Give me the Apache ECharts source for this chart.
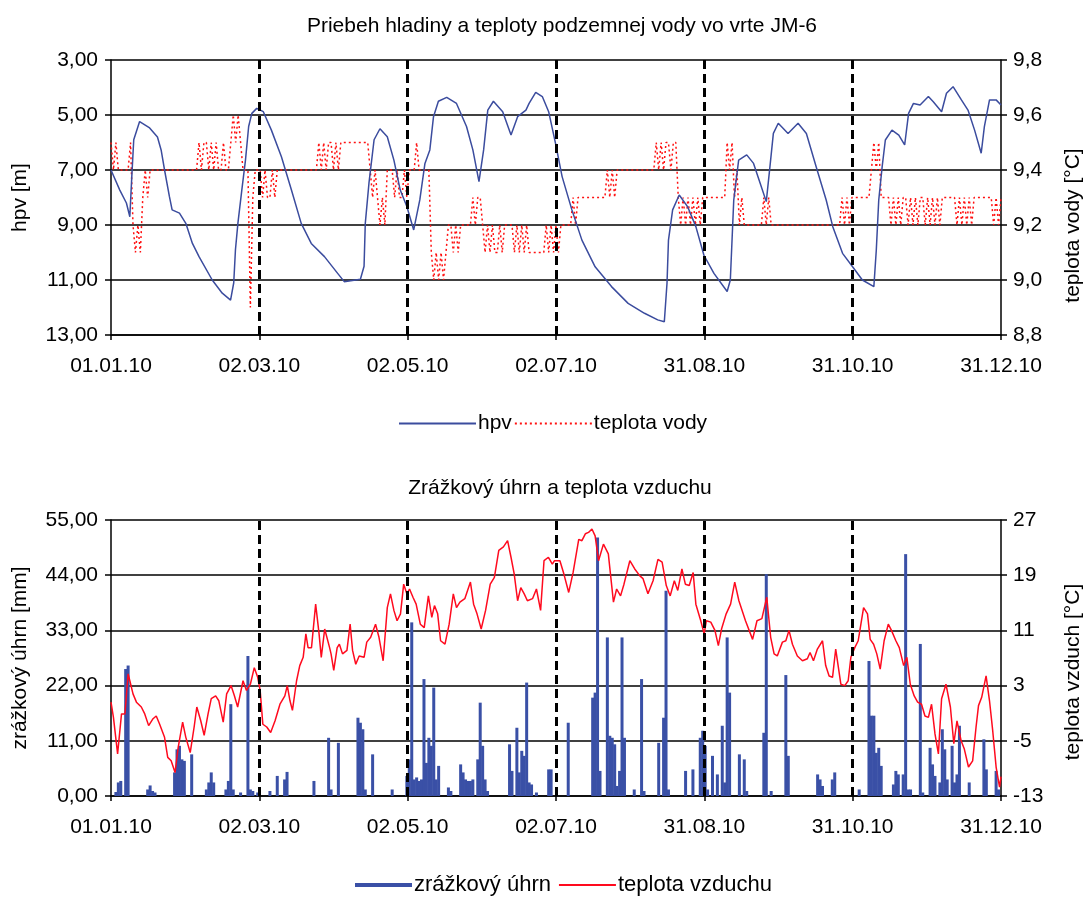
<!DOCTYPE html>
<html>
<head>
<meta charset="utf-8">
<script src="https://cdn.jsdelivr.net/npm/echarts/dist/echarts.min.js"></script>
<style>
  html, body { margin: 0; padding: 0; background: #fff; overflow: hidden; }
  #chart { width: 1092px; height: 899px; }
</style>
</head>
<body>
<div id="chart"></div>
<script>
// Day index 0 = 01.01.2010, 364 = 31.12.2010
const xTickLabels = ['01.01.10', '02.03.10', '02.05.10', '02.07.10', '31.08.10', '31.10.10', '31.12.10'];

// Groundwater level (hpv, m below surface): [day, value]
const hpv = [
  [0,7.0],[3.6,7.73],[6.3,8.2],[7.7,8.7],[8.5,7.25],[9.3,5.9],[11.7,5.24],[15.8,5.47],[19,5.8],[20.5,6.27],
  [21.9,7.0],[23.9,7.97],[25,8.45],[28,8.57],[30.6,8.94],[33.3,9.67],[36,10.15],[41.4,11.0],[45.5,11.48],[48.9,11.73],
  [50.2,11.1],[50.9,9.9],[51.9,8.94],[53.5,7.73],[55,6.64],[56.3,5.42],[57.6,4.94],[59.6,4.76],[62.3,4.88],[65.6,5.55],
  [69.7,6.52],[73.8,7.73],[77.8,8.94],[81.9,9.67],[87.3,10.15],[92.7,10.76],[95.4,11.06],[102,10.97],[103.5,10.5],[104,8.94],
  [105.5,7.48],[107.6,5.9],[110,5.5],[113,5.79],[115.7,6.64],[118.3,7.73],[121,8.33],[123.8,9.18],[124.4,9.24],[126.3,8.09],
  [128.4,6.76],[130.4,6.27],[131.9,5.06],[133.9,4.5],[137.3,4.36],[141.3,4.58],[145.4,5.42],[148,6.27],[150.5,7.42],[152.4,6.27],
  [154.1,4.82],[156.4,4.5],[160.2,4.88],[163.6,5.73],[166.3,5.06],[169.7,4.82],[171,4.58],[173.7,4.18],[176.4,4.33],[179,4.88],
  [181.8,6.03],[184.5,7.24],[188.5,8.45],[192.6,9.55],[198,10.52],[204.7,11.24],[211.5,11.85],[218.2,12.21],[223.6,12.45],[226.3,12.52],
  [227.4,11.12],[228,9.55],[229.7,8.45],[232.4,7.91],[235.8,8.33],[239.2,9.06],[242.5,10.1],[246.6,10.76],[252,11.42],[253.3,11.0],
  [254.7,8.09],[256.7,6.64],[260,6.45],[262.8,6.76],[265.5,7.48],[268,8.15],[269.5,6.88],[270.9,5.67],[272.9,5.3],[276.9,5.67],
  [281,5.3],[284.4,5.67],[288.4,6.88],[292.5,8.09],[295.2,9.06],[299.2,10.03],[303.3,10.52],[307.3,11.0],[312,11.24],[313,9.91],
  [314,8.09],[315.4,6.88],[316.7,5.91],[319.4,5.55],[322.2,5.73],[324.6,6.09],[326.2,4.94],[328.2,4.58],[330.9,4.64],[334.3,4.33],
  [336.3,4.52],[339.7,4.88],[341.7,4.21],[344.4,3.97],[347.8,4.45],[350.5,4.82],[353.2,5.55],[355.9,6.39],[357.2,5.42],[359.3,4.45],
  [362,4.45],[364,4.64]
];

// Groundwater temperature (°C), one value per day, month by month
const waterJan = [9.5,9.4,9.5,9.4,9.4,9.4,9.4,9.4,9.5,9.2, 9.1,9.2,9.1,9.3,9.4,9.3,9.4,9.4,9.4,9.4, 9.4,9.4,9.4,9.4,9.4,9.4,9.4,9.4,9.4,9.4, 9.4];
const waterFeb = [9.4,9.4,9.4,9.4,9.4, 9.5,9.4,9.5,9.5,9.4,9.5,9.4,9.5,9.4,9.4,9.5,9.4, 9.4,9.5,9.6,9.5,9.6,9.5,9.4,9.4,9.4,8.9,9.3];
const waterMar = [9.4,9.4,9.4,9.3,9.4,9.3,9.3,9.4,9.3,9.4, 9.4,9.4,9.4,9.4,9.4,9.4,9.4,9.4, 9.4,9.4,9.4,9.4,9.4,9.4,9.4,9.4, 9.5,9.4,9.5,9.4,9.5];
const waterApr = [9.5,9.4,9.5,9.4,9.5, 9.5,9.5,9.5,9.5,9.5,9.5,9.5,9.5,9.5,9.5,9.5, 9.4,9.3,9.4,9.3,9.2,9.3,9.2,9.4, 9.4,9.4, 9.3,9.4,9.3,9.3];
const waterMay = [9.4,9.3, 9.4,9.4,9.4, 9.5, 9.4,9.4,9.4,9.4,9.4, 9.1, 9.0,9.1,9.0,9.1,9.0,9.1, 9.2,9.2,9.1,9.2,9.1,9.2, 9.2,9.2,9.2,9.2, 9.3,9.2,9.3];
const waterJun = [9.3,9.2, 9.1,9.2,9.1,9.2,9.1,9.1,9.2,9.1,9.2, 9.2,9.2,9.2, 9.1,9.2,9.1,9.2,9.1,9.2,9.1, 9.1,9.1,9.1,9.1,9.1,9.1, 9.2,9.1,9.2];
const waterJul = [9.1,9.2,9.1, 9.2,9.2,9.2,9.2,9.2, 9.3,9.2, 9.3,9.3,9.3,9.3,9.3,9.3,9.3,9.3,9.3,9.3,9.3,9.3, 9.4,9.3,9.4,9.3,9.4, 9.4,9.4,9.4,9.4];
const waterAug = [9.4,9.4,9.4,9.4,9.4,9.4,9.4,9.4,9.4,9.4,9.4, 9.5,9.4,9.5,9.4,9.5,9.5,9.4, 9.5,9.5,9.3, 9.2,9.3,9.2,9.3,9.2,9.3,9.2,9.3,9.2, 9.3];
const waterSep = [9.3,9.3,9.3,9.3,9.3,9.3,9.3,9.3,9.3, 9.5,9.4,9.5,9.3,9.4,9.2,9.3, 9.2,9.2,9.2,9.2,9.2,9.2,9.2,9.2, 9.3,9.2,9.3,9.2, 9.2,9.2];
const waterOct = [9.2,9.2,9.2,9.2,9.2,9.2,9.2,9.2,9.2,9.2, 9.2,9.2,9.2,9.2,9.2,9.2,9.2,9.2,9.2,9.2, 9.2,9.2,9.2,9.2,9.2,9.2, 9.3,9.2,9.3,9.2,9.3];
const waterNov = [9.3,9.3,9.3,9.3,9.3,9.3,9.3, 9.4,9.5,9.4,9.5, 9.3,9.3,9.3,9.3, 9.2,9.3,9.2,9.3,9.2,9.3,9.3,9.2,9.3,9.2,9.3,9.2,9.3,9.3,9.2];
const waterDec = [9.3,9.2,9.3,9.2,9.3,9.2,9.3,9.3, 9.3,9.3,9.3,9.3, 9.2,9.3,9.2,9.3,9.2,9.3,9.2,9.3, 9.3,9.3,9.3,9.3,9.3,9.3,9.3, 9.2,9.3,9.2,9.3];

// Daily precipitation (mm): [day, value]
const precip = [
  [2,0.8],[3,2.7],[4,3.0],[6,25.3],[7,26.0],[15,1.3],[16,2.1],[17,1.0],[18,0.7],[26,4.7],[27,9.3],[28,10.0],[29,7.3],[30,7.0],
  [33,8.3],[39,1.3],[40,2.7],[41,4.7],[42,2.7],[47,1.3],[48,3.0],[49,18.3],[50,1.3],[53,0.7],[56,27.9],[57,1.3],[58,1.0],
  [60,0.7],[65,1.0],[68,4.0],[71,3.3],[72,4.8],[83,3.0],[89,11.6],[90,1.3],[93,10.6],[101,15.6],[102,14.6],[103,13.3],[104,1.3],
  [107,8.3],[115,1.3],[121,4.0],[122,7.3],[123,34.6],[124,3.3],[125,3.7],[126,3.0],[127,3.3],[128,23.3],[129,6.6],[130,11.6],
  [131,10.0],[132,21.6],[133,3.3],[134,6.0],[138,1.7],[139,1.0],[143,6.3],[144,4.7],[145,3.3],[146,3.0],[147,3.0],[148,3.3],
  [150,7.3],[151,18.6],[152,10.0],[153,3.3],[154,1.0],[163,10.3],[164,5.0],[166,13.6],[167,4.7],[168,9.0],[169,8.0],[170,22.6],
  [171,2.7],[172,2.3],[174,0.7],[179,5.3],[180,5.3],[187,14.6],[197,19.6],[198,20.6],[199,51.5],[200,5.0],[203,31.6],[204,12.0],
  [205,11.6],[206,10.3],[207,2.0],[208,5.0],[209,31.6],[210,11.6],[214,1.3],[217,23.3],[218,1.0],[224,10.6],[226,15.6],[227,40.9],
  [228,1.3],[235,5.0],[238,5.3],[241,11.6],[242,13.0],[243,10.0],[244,1.3],[246,8.0],[248,4.3],[250,14.0],[251,2.7],[252,31.6],
  [253,20.6],[257,8.3],[259,7.3],[260,1.0],[267,12.6],[268,44.2],[270,1.0],[276,24.1],[277,8.0],[289,4.3],[290,3.3],[291,2.0],
  [295,3.3],[296,4.7],[306,1.3],[310,26.9],[311,16.0],[312,16.0],[313,8.6],[314,9.6],[315,6.0],[320,2.3],[321,5.0],[322,4.3],
  [324,4.3],[325,48.2],[326,1.3],[327,1.3],[331,30.3],[332,0.7],[335,9.6],[336,6.3],[337,4.0],[339,2.7],[340,13.3],[341,9.3],
  [342,3.3],[344,10.0],[345,2.7],[346,4.3],[347,14.0],[351,2.7],[357,11.3],[358,5.3],[362,5.0],[363,1.3]
];

// Air temperature (°C): [day, value]
const airTemp = [
  [0,0.6],[1,-1.6],[2.7,-6.9],[4.3,-1.1],[5.7,-1.1],[7,4.7],[7.7,3.7],[9,1.8],[10.4,0.6],[12.4,-0.1],
  [13.8,-1.1],[15.4,-2.8],[17.2,-1.8],[18.5,-1.4],[19.9,-2.6],[21.9,-4.5],[23.2,-7.4],[24.6,-7.9],[26.2,-9.6],[27.5,-5.9],
  [29.3,-2.3],[30.6,-4.5],[32.4,-6.7],[34,-3.0],[35.1,-0.1],[36.7,-2.1],[38.1,-4.2],[39.7,-1.1],[41,1.1],[42.8,1.5],
  [44.1,0.8],[45.9,-2.3],[47.3,1.8],[49.1,3.0],[50.5,1.5],[51.8,-0.1],[54,3.7],[55.4,2.3],[57,3.2],[58.6,5.6],
  [60,4.2],[61,2.3],[62.1,-2.6],[63.7,-3.0],[65.3,-3.8],[67.1,-2.1],[69.1,0.3],[71.1,1.5],[72.1,3.0],[73.2,0.8],
  [74.2,-0.6],[75.9,3.7],[77.2,5.9],[78.6,7.1],[79.7,10.5],[80.6,8.5],[82,8.5],[83.7,14.8],[85.1,10.5],[86,7.1],
  [87.4,11.2],[89.4,8.5],[90,7.6],[91.1,5.2],[92.5,8.5],[93.4,9.0],[94.7,7.6],[96.5,8.1],[97.8,11.9],[98.8,8.1],
  [100.1,6.1],[101.5,7.3],[103.5,7.1],[104.6,9.3],[106.2,10.0],[108.2,11.9],[109.6,10.0],[111.3,6.6],[113,14.3],[114.3,16.3],
  [115.7,13.9],[117,12.4],[118.4,13.4],[119.7,17.7],[121,16.3],[122.1,17.0],[123.5,15.8],[124.8,14.8],[126.5,11.9],[128.1,11.4],
  [129.8,16.0],[131.2,12.9],[132.3,14.6],[133.6,13.4],[134.8,9.5],[136.6,9.0],[138.3,11.9],[140,16.3],[141.3,14.3],[142.7,15.1],
  [144.7,15.6],[147,18.0],[148.3,14.8],[149.7,13.4],[151.4,11.2],[153.2,13.9],[155.1,17.7],[156.8,18.7],[158.6,22.6],[160.5,23.1],
  [162.2,24.0],[163.6,21.6],[164.9,19.2],[166.3,15.3],[167.6,17.2],[169,16.3],[170.3,15.3],[172.4,15.6],[174,17.0],[175.7,13.9],
  [177.1,21.1],[178.9,21.6],[180.5,20.6],[181.4,21.1],[183.6,21.1],[185.2,19.2],[187.2,16.5],[189,19.4],[191.3,24.2],[192.6,24.0],
  [194,25.0],[195.3,25.2],[196.7,25.7],[198,24.7],[199.4,21.1],[201.4,23.5],[203.4,22.1],[205.5,15.1],[206.8,17.0],[208.4,16.0],
  [209.8,17.7],[212.2,21.1],[214.2,19.9],[216.3,18.9],[217.6,18.5],[219.6,16.3],[221.7,18.2],[223.7,21.3],[225.4,20.9],[227.1,17.5],
  [228.7,16.0],[230.4,18.2],[231.8,16.8],[233.5,19.9],[234.9,17.7],[236.5,17.5],[238.1,19.4],[239.2,14.8],[241.2,12.4],[242.6,10.5],
  [243.5,12.4],[245.3,12.2],[247,11.0],[248.4,8.8],[249.7,11.2],[251.6,13.4],[253.4,14.8],[255.1,18.0],[256.8,15.3],[259.5,12.4],
  [262.4,9.7],[264.2,12.4],[266.2,12.7],[268.2,15.8],[269.8,10.0],[271.2,7.6],[272.5,7.3],[274.6,9.3],[276,9.5],[277.3,11.0],
  [278.7,9.0],[280.7,7.3],[282.8,6.6],[284.8,6.9],[285.9,7.8],[287.3,6.6],[288.9,8.3],[291,9.5],[292.3,5.9],[293.7,4.4],
  [295.1,4.2],[296.4,8.3],[298.5,3.2],[300.1,3.0],[301.5,3.7],[302.6,7.1],[304.2,8.5],[305.6,9.5],[306.7,11.9],[307.8,14.3],
  [309.4,13.4],[310.5,9.7],[311.9,9.0],[313.2,7.6],[314.6,5.4],[316.2,9.5],[317.9,11.9],[319.2,11.0],[321,9.5],[322.4,8.5],
  [324.2,5.9],[325.5,7.1],[326.9,3.2],[328.5,1.5],[329.9,0.6],[331.5,0.3],[332.9,-1.4],[334.3,-1.6],[335.6,0.3],[337,-4.0],
  [338.4,-6.9],[339.7,1.1],[341.5,3.2],[343.3,-0.1],[344.7,-5.4],[346,-2.1],[347.7,-5.0],[349,-6.2],[350.7,-8.8],[352.4,-7.9],
  [353.8,-3.0],[354.8,0.1],[356.1,1.3],[357.9,4.4],[359.3,0.8],[360.6,-3.5],[362,-8.8],[363.4,-11.7],[364,-10.2]
];

// ---- build chart ----
const waterDaily = [].concat(waterJan, waterFeb, waterMar, waterApr, waterMay, waterJun,
  waterJul, waterAug, waterSep, waterOct, waterNov, waterDec);
const waterTemp = waterDaily.map((v, i) => [i, v]);

const X_MAX = 364;
const X_STEP = X_MAX / (xTickLabels.length - 1);
const dividers = xTickLabels.slice(1, -1).map((_, i) => ({ xAxis: (i + 1) * X_STEP }));

const FONT = '"Liberation Sans", Arial, sans-serif';
const BLACK = '#000';
const comma = (v, d) => v.toFixed(d).replace('.', ',');

function xAxisFor(gridIndex) {
  return {
    type: 'value', gridIndex, min: 0, max: X_MAX, interval: X_STEP,
    axisLine: { onZero: false, lineStyle: { color: BLACK, width: 1.5 } },
    axisTick: { show: true, length: 5, lineStyle: { color: BLACK, width: 1.5 } },
    axisLabel: {
      color: BLACK, fontSize: 21, fontFamily: FONT, margin: 21,
      showMinLabel: true, showMaxLabel: true,
      formatter: v => xTickLabels[Math.round(v / X_STEP)]
    },
    splitLine: { show: false }
  };
}

function yAxisFor(gridIndex, position, opts) {
  return Object.assign({
    type: 'value', gridIndex, position,
    nameLocation: 'middle', nameRotate: 90,
    axisLine: { show: true, onZero: false, lineStyle: { color: BLACK, width: 1.5 } },
    axisTick: { show: true, length: 6, lineStyle: { color: BLACK, width: 1.5 } },
    splitLine: { show: false }
  }, opts);
}

const nameStyle = pad => ({ color: BLACK, fontSize: 21, fontFamily: FONT, padding: pad });
const tickStyle = (margin, fmt) => ({ color: BLACK, fontSize: 21, fontFamily: FONT, margin, formatter: fmt });
const gridLines = { show: true, lineStyle: { color: BLACK, width: 1.5 } };
const dashedDividers = {
  silent: true, symbol: 'none', label: { show: false },
  lineStyle: { color: BLACK, width: 3, type: [9, 5] },
  emphasis: { disabled: true },
  data: dividers
};
const noMarker = { opacity: 0 };

const option = {
  animation: false,
  backgroundColor: '#fff',
  textStyle: { fontFamily: FONT },
  title: [
    { text: 'Priebeh hladiny a teploty podzemnej vody vo vrte JM-6', left: 557, top: 11, textAlign: 'center',
      textStyle: { color: BLACK, fontSize: 21, fontWeight: 'normal', fontFamily: FONT } },
    { text: 'Zrážkový úhrn a teplota vzduchu', left: 555, top: 473, textAlign: 'center',
      textStyle: { color: BLACK, fontSize: 21, fontWeight: 'normal', fontFamily: FONT } }
  ],
  legend: [
    { left: 398, top: 413, padding: 0, itemWidth: 77, itemHeight: 10, itemGap: 2,
      textStyle: { color: BLACK, fontSize: 21, fontFamily: FONT, padding: [0, 0, 0, -3] },
      data: [{ name: 'hpv', itemStyle: noMarker }, { name: 'teplota vody', itemStyle: noMarker }] },
    { left: 355, top: 874, padding: 0, itemWidth: 57, itemHeight: 4, itemGap: 7,
      textStyle: { color: BLACK, fontSize: 22, fontFamily: FONT, padding: [0, 0, 0, -3] },
      data: [{ name: 'zrážkový úhrn', icon: 'rect' }, { name: 'teplota vzduchu', itemStyle: noMarker }] }
  ],
  grid: [
    { left: 111, right: 82, top: 60, height: 275 },
    { left: 111, right: 82, top: 520, height: 276 }
  ],
  xAxis: [xAxisFor(0), xAxisFor(1)],
  yAxis: [
    yAxisFor(0, 'left', { name: 'hpv [m]', nameGap: 80, nameTextStyle: nameStyle(0),
      min: 3, max: 13, interval: 2, inverse: true,
      axisLabel: tickStyle(13, v => comma(v, 2)), splitLine: gridLines }),
    yAxisFor(0, 'right', { name: 'teplota vody [°C]', nameGap: 62, nameTextStyle: nameStyle([0, 56, 0, 0]),
      min: 8.8, max: 9.8, interval: 0.2,
      axisLabel: tickStyle(12, v => comma(v, 1)) }),
    yAxisFor(1, 'left', { name: 'zrážkový úhrn [mm]', nameGap: 80, nameTextStyle: nameStyle(0),
      min: 0, max: 55, interval: 11,
      axisLabel: tickStyle(13, v => comma(v, 2)), splitLine: gridLines }),
    yAxisFor(1, 'right', { name: 'teplota vzduch [°C]', nameGap: 62, nameTextStyle: nameStyle([0, 28, 0, 0]),
      min: -13, max: 27, interval: 8,
      axisLabel: tickStyle(12, v => String(Math.round(v))) })
  ],
  series: [
    { name: 'hpv', type: 'line', xAxisIndex: 0, yAxisIndex: 0, data: hpv,
      showSymbol: false, symbol: 'none', z: 3,
      lineStyle: { color: '#3b4c9e', width: 1.5 }, itemStyle: { color: '#3b4c9e' },
      markLine: dashedDividers },
    { name: 'teplota vody', type: 'line', xAxisIndex: 0, yAxisIndex: 1, data: waterTemp,
      showSymbol: false, symbol: 'none', z: 2,
      lineStyle: { color: '#ff1010', width: 1.5, type: [2, 3] }, itemStyle: { color: '#ff1010' } },
    { name: 'zrážkový úhrn', type: 'bar', xAxisIndex: 1, yAxisIndex: 2, data: precip,
      barWidth: 3, z: 2, itemStyle: { color: '#3a50a6' },
      markLine: dashedDividers },
    { name: 'teplota vzduchu', type: 'line', xAxisIndex: 1, yAxisIndex: 3, data: airTemp,
      showSymbol: false, symbol: 'none', z: 3,
      lineStyle: { color: '#ff0a1e', width: 1.5 }, itemStyle: { color: '#ff0a1e' } }
  ]
};

const chart = echarts.init(document.getElementById('chart'), null, { renderer: 'canvas' });
chart.setOption(option);
</script>
</body>
</html>
